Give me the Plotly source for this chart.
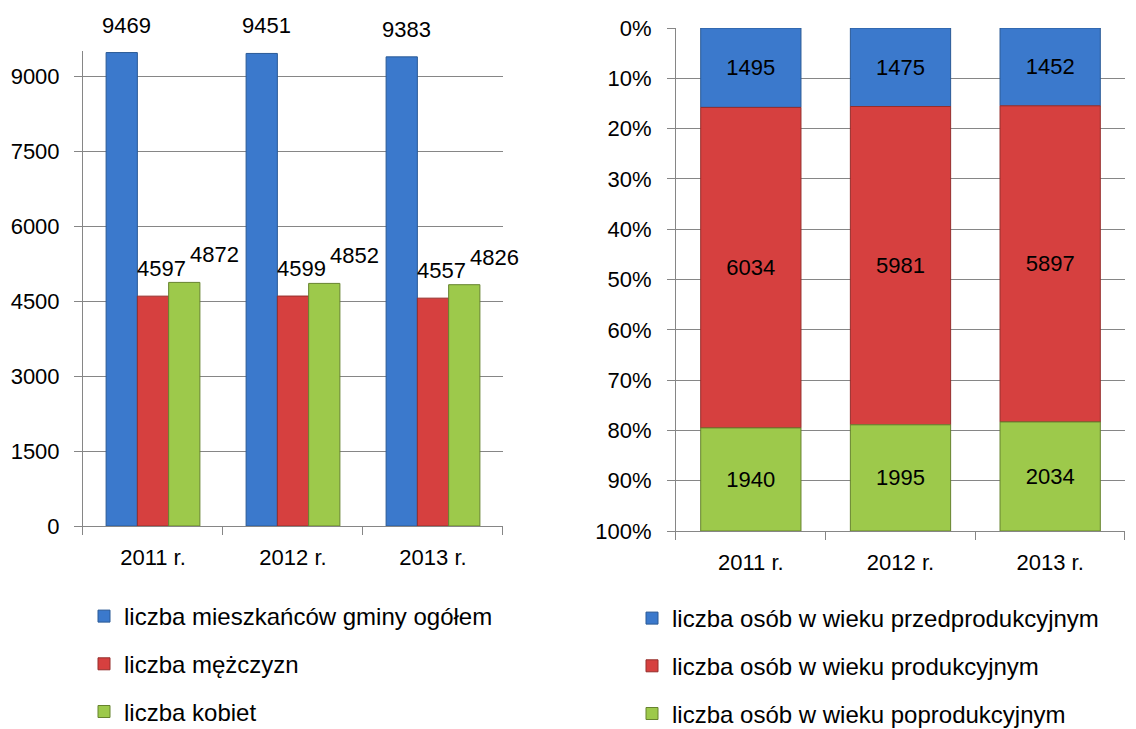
import plotly.graph_objects as go

years = ["2011 r.", "2012 r.", "2013 r."]

# left chart
ogolem = [9469, 9451, 9383]
mezczyzni = [4597, 4599, 4557]
kobiety = [4872, 4852, 4826]
left_names = ["liczba mieszkańców gminy ogółem", "liczba mężczyzn", "liczba kobiet"]
left_ticks = [0, 1500, 3000, 4500, 6000, 7500, 9000]

# right chart
przed = [1495, 1475, 1452]
prod = [6034, 5981, 5897]
poprod = [1940, 1995, 2034]
right_names = ["liczba osób w wieku przedprodukcyjnym",
               "liczba osób w wieku produkcyjnym",
               "liczba osób w wieku poprodukcyjnym"]
pct_ticks = [0, 10, 20, 30, 40, 50, 60, 70, 80, 90, 100]
pct_labels = ["%d%%" % v for v in pct_ticks]

BLUE, RED, GREEN = "#3B79CC", "#D6403F", "#9DC94B"
BLUE_D, RED_D, GREEN_D = "#2A5A96", "#952E2C", "#66832E"
TICKFONT = dict(family="Liberation Sans, Arial, sans-serif", size=22, color="#000")
LEGFONT = dict(family="Liberation Sans, Arial, sans-serif", size=24, color="#000")
GRID = "#868686"

fig = go.Figure()

left_series = [ogolem, mezczyzni, kobiety]
cols = [(BLUE, BLUE_D), (RED, RED_D), (GREEN, GREEN_D)]
for i, (vals, name, (c, cd)) in enumerate(zip(left_series, left_names, cols)):
    fig.add_trace(go.Bar(
        x=years, y=vals, name=name, xaxis="x", yaxis="y",
        marker=dict(color=c, line=dict(color=cd, width=1)),
        legend="legend", legendgroup="L%d" % i,
    ))

# 100% stacked bars on the right: shares computed from the counts
right_series = [przed, prod, poprod]
totals = [sum(t) for t in zip(*right_series)]
bases = [0.0] * len(years)
for i, (vals, name, (c, cd)) in enumerate(zip(right_series, right_names, cols)):
    shares = [v / t * 100 for v, t in zip(vals, totals)]
    fig.add_trace(go.Bar(
        x=years, y=shares, base=list(bases), name=name, xaxis="x2", yaxis="y2",
        marker=dict(color=c, line=dict(color=cd, width=1)),
        text=[str(v) for v in vals], textposition="inside",
        insidetextanchor="middle", textfont=TICKFONT, constraintext="none",
        legend="legend2", legendgroup="R%d" % i, offsetgroup="r",
        hovertemplate="%{x}: %{text}<extra></extra>",
    ))
    bases = [b + s for b, s in zip(bases, shares)]

# data labels for the left chart (Excel-like placement)
shifts = [-26, 9, 62]
for vals, dx in zip(left_series, shifts):
    for yr, v in zip(years, vals):
        fig.add_annotation(x=yr, y=v, xref="x", yref="y", text=str(v),
                           showarrow=False, yanchor="bottom", xshift=dx, yshift=13,
                           font=TICKFONT)

axis_common = dict(showline=True, linecolor=GRID, linewidth=1, ticks="outside",
                   ticklen=8, tickcolor=GRID, tickfont=TICKFONT, automargin=False)

fig.update_layout(
    width=1136, height=729,
    margin=dict(l=0, r=0, t=0, b=0, autoexpand=False),
    paper_bgcolor="white", plot_bgcolor="white",
    barmode="group", bargap=0.33, bargroupgap=0,
    showlegend=True,
    xaxis=dict(domain=[0.07306, 0.44278], range=[-0.5, 2.5], tickson="boundaries",
               ticklabelstandoff=12, showgrid=False, **axis_common),
    yaxis=dict(domain=[0.27846, 0.93004], range=[0, 9500], tickvals=left_ticks,
               showgrid=True, gridcolor=GRID, gridwidth=1, zeroline=False,
               ticklabelstandoff=10, **axis_common),
    xaxis2=dict(domain=[0.59507, 0.99032], anchor="y2", range=[-0.5, 2.5], tickson="boundaries",
                ticklabelstandoff=12, showgrid=False, **axis_common),
    yaxis2=dict(domain=[0.27160, 0.96159], anchor="x2", range=[100, 0],
                tickmode="array", tickvals=pct_ticks, ticktext=pct_labels,
                showgrid=True, gridcolor=GRID, gridwidth=1,
                zeroline=False, ticklabelstandoff=11, **axis_common),
    legend=dict(x=84 / 1136, y=(729 - 594) / 729, xanchor="left", yanchor="top",
                font=LEGFONT, tracegroupgap=13.5, bgcolor="rgba(0,0,0,0)", traceorder="grouped"),
    legend2=dict(x=632 / 1136, y=(729 - 596) / 729, xanchor="left", yanchor="top",
                 font=LEGFONT, tracegroupgap=13.5, bgcolor="rgba(0,0,0,0)", traceorder="grouped"),
)

fig.write_html("out.html", config={"displayModeBar": False},
               post_script="document.body.style.margin='0';")
